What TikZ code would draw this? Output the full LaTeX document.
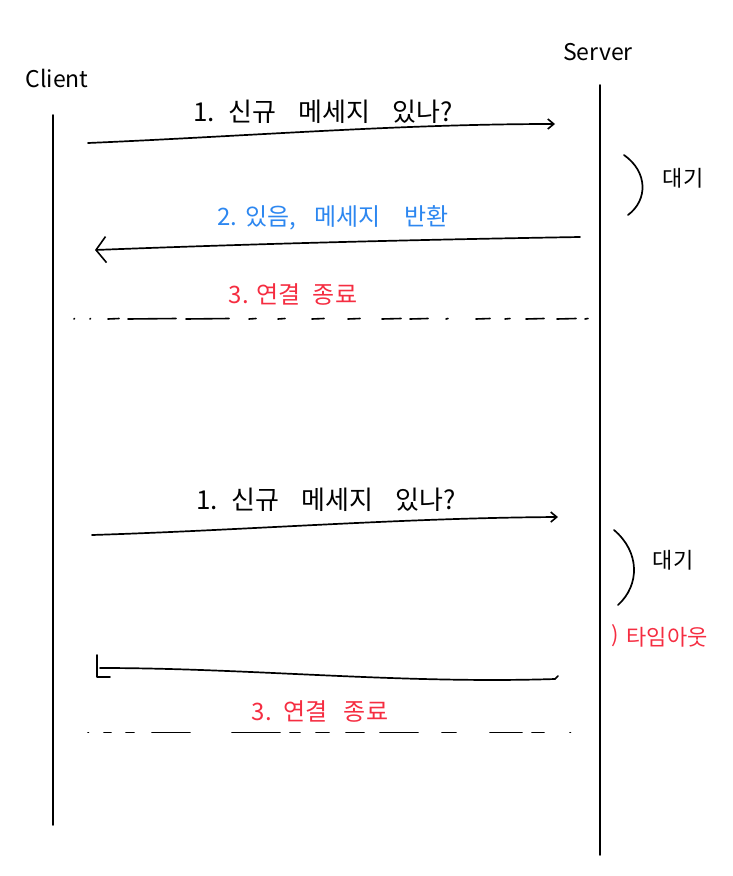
\documentclass[tikz,border=0pt]{standalone}
\usepackage{fontspec}
\setmainfont{Noto Sans CJK KR}
\usetikzlibrary{arrows.meta}
\definecolor{hblue}{RGB}{45,135,240}
\definecolor{hred}{RGB}{245,45,65}
\begin{document}
\begin{tikzpicture}[x=1pt,y=-1pt,
  line cap=round, line join=round,
  life/.style={line width=1.8pt},
  msg/.style={line width=1.7pt},
  dsh/.style={line width=1.6pt},
  lbl/.style={font=\fontsize{26}{28}\selectfont, inner sep=0pt},
  mid/.style={font=\fontsize{24}{26}\selectfont, inner sep=0pt},
  small/.style={font=\fontsize{22}{24}\selectfont, inner sep=0pt},
  hand/.style={font=\fontsize{23}{25}\selectfont, inner sep=0pt},
  smallhead/.style={-{Straight Barb[length=6pt,width=10pt,line width=1.6pt]}},
]
\useasboundingbox (0,0) rectangle (732,876);

% headers
\node[hand] (client) at (57,78) {Client};
\node[hand] (server) at (598,52) {Server};

% lifelines
\coordinate (c0) at (53,115);
\coordinate (c1) at (53,825);
\coordinate (s0) at (600,85);
\coordinate (s1) at (600,855);
\draw[life] (c0) -- (c1);
\draw[life] (s0) -- (s1);

% ---- first exchange
\node[lbl] (q1) at (323,112) {1.\hspace{14pt}신규\hspace{22pt}메세지\hspace{22pt}있나?};
\coordinate (a1s) at (88,143);
\coordinate (a1e) at (555,124);
\draw[msg, smallhead] (a1s) .. controls (250,136) and (400,124) .. (a1e);

\coordinate (b1t) at (624,155);
\coordinate (b1b) at (628,215);
\draw[msg] (b1t) .. controls (648,172) and (648,200) .. (b1b);
\node[small] (w1) at (683,178) {대기};

\node[mid, text=hblue] (r2) at (333,218) {2.\hspace{8pt}있음,\hspace{18pt}메세지\hspace{24pt}반환};
\coordinate (a2s) at (580,237);
\coordinate (a2e) at (95,250);
\draw[msg, -{Straight Barb[length=10pt,width=26pt,line width=1.6pt]}] (a2s) .. controls (400,240) and (250,244) .. (a2e);

\node[mid, text=hred] (e3) at (293,294) {3.\hspace{8pt}연결\hspace{12pt}종료};
\foreach \a/\b in {74/74.5, 90/90.5, 108/119, 128/176, 186/229, 249/256,
  278/285, 312/324, 348/360, 382/401, 410/428, 446/448,
  476/490, 505/510, 526/544, 557/576, 585/588}
  \draw[dsh] (\a,319) -- (\b,318.5);

% ---- second exchange
\node[lbl] (q2) at (326,500) {1.\hspace{14pt}신규\hspace{22pt}메세지\hspace{22pt}있나?};
\coordinate (a3s) at (92,535);
\coordinate (a3e) at (558,517);
\draw[msg, smallhead] (a3s) .. controls (250,530) and (400,518) .. (a3e);

\coordinate (b2t) at (614,530);
\coordinate (b2b) at (618,605);
\draw[msg] (b2t) .. controls (640,552) and (640,585) .. (b2b);
\node[small] (w2) at (673,560) {대기};

\node[small, text=hred] (t1) at (615,636) {)};
\node[small, text=hred] (to) at (667,637) {타임아웃};

\coordinate (a4s) at (555,679);
\coordinate (a4e) at (100,668);
\coordinate (k1) at (97,655);
\coordinate (k2) at (97,677);
\coordinate (k3) at (110,677);
\draw[msg] (a4s) .. controls (400,684) and (250,668) .. (a4e);
\draw[msg] (k1) -- (k2) -- (k3);
\draw[msg] (a4s) -- ++(3,-3);

\node[mid, text=hred] (e4) at (320,711) {3.\hspace{12pt}연결\hspace{16pt}종료};
\foreach \a/\b in {88/88.5, 104/111, 126/134, 152/190, 232/280, 290/300,
  316/329, 346/364, 380/418, 442/456, 490/522, 532/544, 570/570.5}
  \draw[dsh] (\a,732.5) -- (\b,732.5);
\end{tikzpicture}
\end{document}
